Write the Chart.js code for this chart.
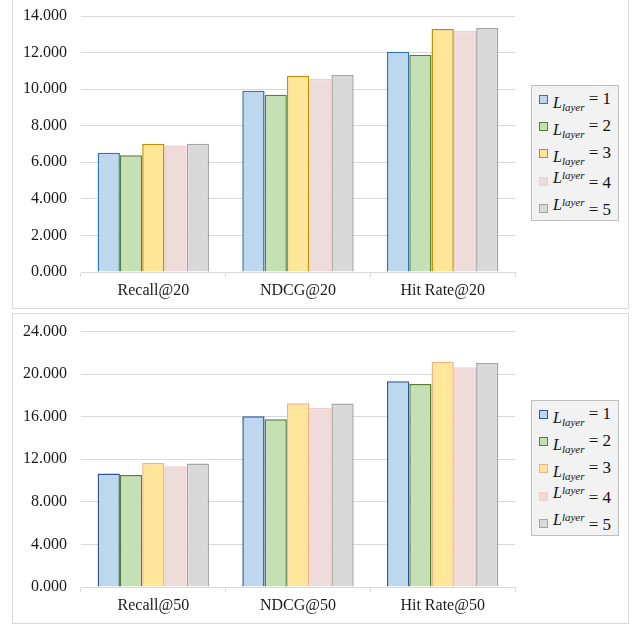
<!DOCTYPE html>
<html>
<head>
<meta charset="utf-8">
<script src="https://cdn.jsdelivr.net/npm/chart.js@4"></script>
<style>
  body { margin: 0; background: #fff; font-family: 'Liberation Serif', serif; }
  .panel { position: absolute; left: 12px; width: 615px; border: 1px solid #D9D9D9; background: #fff; }
  .panel canvas { position: absolute; left: 0; top: 0; }
  .legend { position: absolute; width: 86px; height: 134px; background: #F2F2F2; border: 1px solid #BFBFBF; }
  .row { position: absolute; left: 0; height: 27px; width: 86px; color: #111; }
  .mark { position: absolute; left: 7px; width: 7px; height: 7px; border: 1.5px solid; }
  .txt { position: absolute; left: 21px; top: 4px; white-space: nowrap; font-size: 17px; }
  .txt i { font-size: 16px; }
  .txt sub { font-size: 11px; font-style: italic; vertical-align: -3px; }
</style>
</head>
<body>
<div class="panel" id="panelTop" style="top:-1px;height:308px;">
  <canvas id="chartTop"></canvas>
</div>
<div class="legend" id="legendTop" style="left:531px;top:85px;"></div>

<div class="panel" id="panelBottom" style="top:313px;height:309px;">
  <canvas id="chartBottom"></canvas>
</div>
<div class="legend" id="legendBottom" style="left:531px;top:400px;"></div>

<script>
// categorias y valores
const categoriesTop = ['Recall@20', 'NDCG@20', 'Hit Rate@20'];
const layer1Top = [6.52, 9.91, 12.05];
const layer2Top = [6.38, 9.69, 11.88];
const layer3Top = [7.01, 10.73, 13.29];
const layer4Top = [6.92, 10.57, 13.18];
const layer5Top = [7.02, 10.77, 13.34];
const yTicksTop = [0, 2, 4, 6, 8, 10, 12, 14];

const categoriesBottom = ['Recall@50', 'NDCG@50', 'Hit Rate@50'];
const layer1Bottom = [10.65, 16.04, 19.33];
const layer2Bottom = [10.53, 15.76, 19.08];
const layer3Bottom = [11.65, 17.26, 21.17];
const layer4Bottom = [11.34, 16.82, 20.64];
const layer5Bottom = [11.59, 17.23, 21.05];
const yTicksBottom = [0, 4, 8, 12, 16, 20, 24];

const layerIds = [1, 2, 3, 4, 5];

// colores
const fills = ['#BDD7EE', '#C5E0B4', '#FFE699', '#EEDCDA', '#D9D9D9'];
const bordersTop = ['#2E75B6', '#548235', '#BF9000', '#F8CBCB', '#A6A6A6'];
const bordersBottom = ['#2F5597', '#548235', '#F4B183', '#F8CBCB', '#A6A6A6'];

function setupCanvas(id, w, h) {
    const c = document.getElementById(id);
    c.style.width = w + 'px';
    c.style.height = h + 'px';
    c.width = w;
    c.height = h;
    return c.getContext('2d');
}

function makeChart(ctx, categories, series, borders, yTicks, axisHeight, padTop) {
    return new Chart(ctx, {
        type: 'bar',
        data: {
            labels: categories,
            datasets: series.map((vals, i) => ({
                label: 'L_layer = ' + layerIds[i],
                data: vals,
                backgroundColor: fills[i],
                borderColor: borders[i],
                borderWidth: 1.5,
                borderSkipped: 'bottom',
                categoryPercentage: 0.77,
                barPercentage: 1.0
            }))
        },
        options: {
            responsive: false,
            animation: false,
            devicePixelRatio: 1,
            layout: { padding: { top: padTop, right: 113, bottom: 0, left: 0 } },
            plugins: {
                legend: { display: false },
                tooltip: { enabled: false }
            },
            scales: {
                x: {
                    afterFit: (s) => {
                        s.height = axisHeight;
                        s.paddingLeft = 0; s.paddingRight = 0;
                    },
                    grid: {
                        offset: true,
                        drawOnChartArea: false,
                        drawTicks: true,
                        tickLength: 5,
                        color: '#D9D9D9'
                    },
                    border: { color: '#D9D9D9', width: 1 },
                    ticks: {
                        color: '#1a1a1a',
                        padding: 4,
                        font: { family: 'Liberation Serif', size: 16 }
                    }
                },
                y: {
                    min: yTicks[0],
                    max: yTicks[yTicks.length - 1],
                    afterFit: (s) => {
                        s.width = 68;
                        s.paddingTop = 0; s.paddingBottom = 0;
                    },
                    afterBuildTicks: (s) => { s.ticks = yTicks.map(v => ({ value: v })); },
                    grid: { color: '#D9D9D9', drawTicks: false },
                    border: { display: false },
                    ticks: {
                        color: '#1a1a1a',
                        padding: 14,
                        font: { family: 'Liberation Serif', size: 16 },
                        callback: (v) => Number(v).toFixed(3)
                    }
                }
            }
        }
    });
}

function buildLegend(id, borders) {
    const box = document.getElementById(id);
    layerIds.forEach((n, i) => {
        const row = document.createElement('div');
        row.className = 'row';
        row.style.top = (i * 27) + 'px';
        const raised = i >= 3;
        row.innerHTML =
            '<div class="mark" style="top:' + (raised ? 10 : 9) + 'px;background:' + fills[i] + ';border-color:' + borders[i] + '"></div>' +
            '<div class="txt">' +
            '<span style="position:relative;top:' + (raised ? -3 : 3) + 'px"><i>L</i><sub style="vertical-align:' + (raised ? '4px' : '-3px') + '">layer</sub></span>' +
            '<span style="position:relative;top:' + (raised ? 2 : -1) + 'px"> = ' + n + '</span>' +
            '</div>';
        box.appendChild(row);
    });
}

const ctxTop = setupCanvas('chartTop', 615, 308);
makeChart(ctxTop, categoriesTop,
    [layer1Top, layer2Top, layer3Top, layer4Top, layer5Top],
    bordersTop, yTicksTop, 36, 16);

const ctxBottom = setupCanvas('chartBottom', 615, 309);
makeChart(ctxBottom, categoriesBottom,
    [layer1Bottom, layer2Bottom, layer3Bottom, layer4Bottom, layer5Bottom],
    bordersBottom, yTicksBottom, 36, 17.5);

buildLegend('legendTop', bordersTop);
buildLegend('legendBottom', bordersBottom);
</script>
</body>
</html>
